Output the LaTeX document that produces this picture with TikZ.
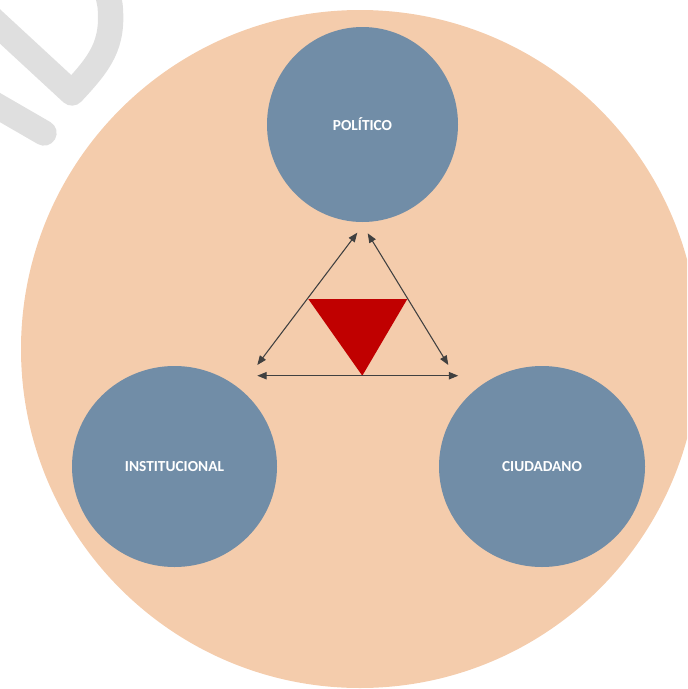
\documentclass[tikz,border=0pt]{standalone}
\usepackage{fontspec}
\setmainfont{Carlito}
\usetikzlibrary{shapes.geometric,arrows.meta}
\definecolor{peach}{HTML}{F4CCAC}
\definecolor{slate}{HTML}{718DA7}
\definecolor{darkred}{HTML}{C00000}
\definecolor{arrowgray}{HTML}{404040}
\definecolor{wmgray}{HTML}{DFDFDF}
\begin{document}
\begin{tikzpicture}[x=0.75pt,y=-0.75pt,
  bubble/.style={ellipse,fill=slate,inner sep=0pt,text=white,font=\bfseries\fontsize{11.5}{13}\selectfont},
  link/.style={draw=arrowgray,line width=0.8pt,{Triangle[length=7pt,width=5.5pt]}-{Triangle[length=7pt,width=5.5pt]}},
  mark stroke/.style={wmgray,line width=19pt}]
\useasboundingbox (0,0) rectangle (687,689);
\clip (0,0) rectangle (687,689);
% watermark
\draw[mark stroke,line join=round] (-20,8) -- (72,93) .. controls (100,63) and (114,45) .. (110,5) -- (106,-15);
\draw[mark stroke,line cap=round] (-20,96) -- (44,133);
% big circle
\fill[peach] (360,349) ellipse [x radius=339,y radius=339];
% bubbles
\node[bubble,minimum width=143.25pt,minimum height=146.25pt] (pol) at (362.5,124.5) {POLÍTICO};
\node[bubble,minimum width=153.75pt,minimum height=150.75pt] (ins) at (174.5,466.5) {INSTITUCIONAL};
\node[bubble,minimum width=154.5pt,minimum height=150.75pt] (ciu) at (542,466.5) {CIUDADANO};
% red triangle
\coordinate (t1) at (308.3,299);
\coordinate (t2) at (407.3,299);
\coordinate (t3) at (362.3,375.7);
\fill[darkred] (t1) -- (t2) -- (t3) -- cycle;
% arrows
\coordinate (a1) at (357.3,232.7); \coordinate (a2) at (257.3,365);
\coordinate (b1) at (367.7,233.3); \coordinate (b2) at (448.3,365);
\coordinate (c1) at (257.3,375.7); \coordinate (c2) at (458.3,375.7);
\draw[link] (a2) -- (a1);
\draw[link] (b1) -- (b2);
\draw[link] (c1) -- (c2);
\end{tikzpicture}
\end{document}
